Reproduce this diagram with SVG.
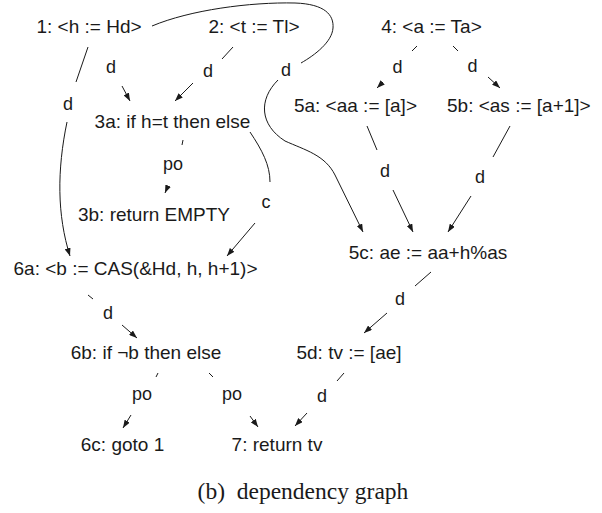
<svg xmlns="http://www.w3.org/2000/svg" width="602" height="513" viewBox="0 0 602 513">
<style>
.n{font-family:"Liberation Sans",Arial,Helvetica,sans-serif;font-size:19px;fill:#1a1a1a;text-anchor:middle}
.l{font-family:"Liberation Sans",Arial,Helvetica,sans-serif;font-size:18px;fill:#1a1a1a;text-anchor:middle}
.e{fill:none;stroke:#1a1a1a;stroke-width:1}
.cap{font-family:"Liberation Serif","Times New Roman",serif;font-size:23.5px;fill:#1a1a1a;text-anchor:middle}
</style>
<defs>
<marker id="ah" viewBox="0 0 8 6" refX="8" refY="3" markerWidth="8" markerHeight="6" orient="auto" markerUnits="userSpaceOnUse"><path d="M0,0 L8,3 L0,6 z" fill="#1a1a1a"/></marker>
</defs>
<rect width="602" height="513" fill="#fff"/>
<g id="connectors">
<!-- 1 -> 3a -->
<path class="e" d="M122,86 L130,101" marker-end="url(#ah)"/>
<text class="l" x="111" y="73">d</text>
<!-- 1 -> 6a -->
<path class="e" d="M88,47 L76,82"/>
<path class="e" d="M67,122 C57,170 57,215 70,256" marker-end="url(#ah)"/>
<text class="l" x="68" y="110">d</text>
<!-- 2 -> 3a -->
<path class="e" d="M233,47 L222,59"/>
<path class="e" d="M193,83 L175,101" marker-end="url(#ah)"/>
<text class="l" x="208" y="77">d</text>
<!-- 1 -> 5c -->
<path class="e" d="M152,26 C190,10 250,2 295,3 C325,4 334,15 333,28 C332,42 315,55 301,63"/>
<path class="e" d="M278,80 C258,100 260,125 285,141 C305,150 325,155 335,175 L363,232" marker-end="url(#ah)"/>
<text class="l" x="286" y="76">d</text>
<!-- 3a -> 3b -->
<path class="e" d="M183,140 L182,145"/>
<path class="e" d="M168,186 L165,193" marker-end="url(#ah)"/>
<text class="l" x="173" y="170">po</text>
<!-- 3a -> 6a -->
<path class="e" d="M250,132 C262,150 270,165 270,182"/>
<path class="e" d="M255,223 L227,256" marker-end="url(#ah)"/>
<text class="l" x="266" y="208">c</text>
<!-- 4 -> 5a -->
<path class="e" d="M417,46 L412,51"/>
<path class="e" d="M383,82 L377,88" marker-end="url(#ah)"/>
<text class="l" x="397.5" y="73">d</text>
<!-- 4 -> 5b -->
<path class="e" d="M453,46 L458,51"/>
<path class="e" d="M488,77 L500,88" marker-end="url(#ah)"/>
<text class="l" x="472.5" y="72">d</text>
<!-- 5a -> 5c -->
<path class="e" d="M367,126 L377,150"/>
<path class="e" d="M393,190 L413,232" marker-end="url(#ah)"/>
<text class="l" x="385" y="177">d</text>
<!-- 5b -> 5c -->
<path class="e" d="M510,126 L493,157"/>
<path class="e" d="M471,196 L448,232" marker-end="url(#ah)"/>
<text class="l" x="480" y="183">d</text>
<!-- 5c -> 5d -->
<path class="e" d="M431,272 L415,286"/>
<path class="e" d="M387,313 L364,333" marker-end="url(#ah)"/>
<text class="l" x="400" y="305">d</text>
<!-- 6a -> 6b -->
<path class="e" d="M88,295 L93,299"/>
<path class="e" d="M122,325 L137,338" marker-end="url(#ah)"/>
<text class="l" x="108" y="319">d</text>
<!-- 6b -> 6c -->
<path class="e" d="M158,373 L156,377"/>
<path class="e" d="M131,415 L123,428" marker-end="url(#ah)"/>
<text class="l" x="142" y="400">po</text>
<!-- 6b -> 7 -->
<path class="e" d="M209,373 L213,377"/>
<path class="e" d="M250,416 L258,427" marker-end="url(#ah)"/>
<text class="l" x="232" y="400">po</text>
<!-- 5d -> 7 -->
<path class="e" d="M344,373 L337,381"/>
<path class="e" d="M307,413 L295,426" marker-end="url(#ah)"/>
<text class="l" x="322" y="402">d</text>
</g>
<g id="n1"><text class="n" x="89" y="33">1: &lt;h := Hd&gt;</text></g>
<g id="n2"><text class="n" x="254" y="33">2: &lt;t := Tl&gt;</text></g>
<g id="n4"><text class="n" x="431.5" y="33">4: &lt;a := Ta&gt;</text></g>
<g id="n3a"><text class="n" x="172.5" y="128">3a: if h=t then else</text></g>
<g id="n5a"><text class="n" x="417" y="112" style="text-anchor:end">5a: &lt;aa := [a]&gt;</text></g>
<g id="n5b"><text class="n" x="447" y="112" style="text-anchor:start">5b: &lt;as := [a+1]&gt;</text></g>
<g id="n3b"><text class="n" x="154" y="221">3b: return EMPTY</text></g>
<g id="n6a"><text class="n" x="135.5" y="275">6a: &lt;b := CAS(&amp;Hd, h, h+1)&gt;</text></g>
<g id="n5c"><text class="n" x="428" y="258.5">5c: ae := aa+h%as</text></g>
<g id="n6b"><text class="n" x="146" y="359">6b: if ¬b then else</text></g>
<g id="n5d"><text class="n" x="349" y="359">5d: tv := [ae]</text></g>
<g id="n6c"><text class="n" x="122.5" y="451">6c: goto 1</text></g>
<g id="n7"><text class="n" x="277" y="451">7: return tv</text></g>
<text class="cap" x="303" y="499" xml:space="preserve">(b)  dependency graph</text>
</svg>
